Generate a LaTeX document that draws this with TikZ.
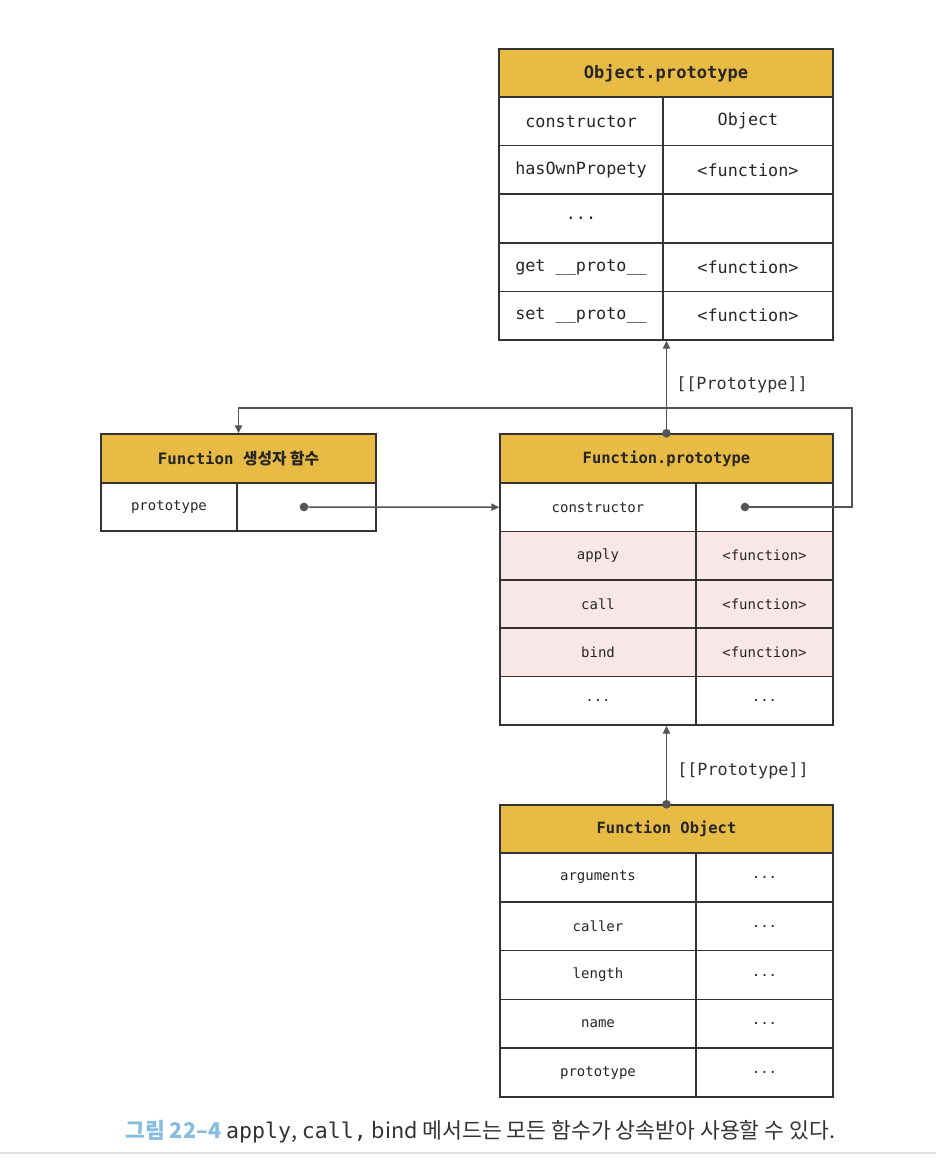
\documentclass[tikz,border=0pt]{standalone}
\usepackage{fontspec}
\setmonofont{DejaVu Sans Mono}
\newfontfamily\kr{Noto Sans CJK KR}
\usetikzlibrary{arrows.meta}
\definecolor{hdr}{HTML}{E8BB45}
\definecolor{pinkrow}{HTML}{F9E6E6}
\definecolor{linec}{HTML}{333333}
\definecolor{connc}{HTML}{555555}
\definecolor{capblue}{HTML}{86BCE0}
\definecolor{captext}{HTML}{333333}
\newcommand{\cellbox}[7]{%
  \pgfmathsetmacro{\cellW}{(#4-#2)*0.75}%
  \pgfmathsetmacro{\cellH}{(#5-#3)*0.75}%
  \node[cellst,#6,minimum width=\cellW pt,minimum height=\cellH pt] (#1) at ({(#2+#4)/2},{(#3+#5)/2}) {#7};}
\begin{document}
\begin{tikzpicture}[x=0.75pt,y=-0.75pt,
  cellst/.style={draw=linec,line width=1.1pt,inner sep=0pt,text=black!85},
  hd/.style={fill=hdr,font=\ttfamily\bfseries},
  big/.style={font=\ttfamily\fontsize{12.6}{14}\selectfont},
  sm/.style={font=\ttfamily\fontsize{10.5}{12}\selectfont},
  pk/.style={fill=pinkrow},
  conn/.style={draw=connc,line width=1.1pt},
  tip/.style={-{Triangle[length=6pt,width=5.5pt]}},
  dotst/.style={circle,fill=connc,inner sep=0pt,minimum size=6.5pt},
  lbl/.style={font=\ttfamily\fontsize{12.6}{14}\selectfont,text=black!80,anchor=west,inner sep=0pt}]
\useasboundingbox (0,0) rectangle (936,1158);
\fill[white] (0,0) rectangle (936,1158);

% Object.prototype
\cellbox{oph}{499}{49}{833}{97}{hd,font=\ttfamily\bfseries\fontsize{12.8}{14}\selectfont}{Object.prototype}
\cellbox{opk1}{499}{97}{663}{145.6}{big}{constructor}
\cellbox{opv1}{663}{97}{833}{145.6}{big}{Object}
\cellbox{opk2}{499}{145.6}{663}{194.2}{big}{hasOwnPropety}
\cellbox{opv2}{663}{145.6}{833}{194.2}{big}{<function>}
\cellbox{opk3}{499}{194.2}{663}{242.8}{big}{...}
\cellbox{opv3}{663}{194.2}{833}{242.8}{big}{}
\cellbox{opk4}{499}{242.8}{663}{291.4}{big}{get \_\_proto\_\_}
\cellbox{opv4}{663}{242.8}{833}{291.4}{big}{<function>}
\cellbox{opk5}{499}{291.4}{663}{340}{big}{set \_\_proto\_\_}
\cellbox{opv5}{663}{291.4}{833}{340}{big}{<function>}

% Function constructor
\cellbox{fch}{101}{434}{376}{483}{hd,font=\ttfamily\bfseries\fontsize{11.8}{13}\selectfont}{Function {\kr\bfseries 생성자 함수}}
\cellbox{fck1}{101}{483}{237}{531}{sm}{prototype}
\cellbox{fcv1}{237}{483}{376}{531}{sm}{}

% Function.prototype
\cellbox{fph}{500}{434}{833}{483}{hd,font=\ttfamily\bfseries\fontsize{11.6}{13}\selectfont}{Function.prototype}
\cellbox{fpk1}{500}{483}{696}{531.4}{sm}{constructor}
\cellbox{fpv1}{696}{483}{833}{531.4}{sm}{}
\cellbox{fpk2}{500}{531.4}{696}{579.8}{sm,pk}{apply}
\cellbox{fpv2}{696}{531.4}{833}{579.8}{sm,pk}{<function>}
\cellbox{fpk3}{500}{579.8}{696}{628.2}{sm,pk}{call}
\cellbox{fpv3}{696}{579.8}{833}{628.2}{sm,pk}{<function>}
\cellbox{fpk4}{500}{628.2}{696}{676.6}{sm,pk}{bind}
\cellbox{fpv4}{696}{628.2}{833}{676.6}{sm,pk}{<function>}
\cellbox{fpk5}{500}{676.6}{696}{725}{sm}{...}
\cellbox{fpv5}{696}{676.6}{833}{725}{sm}{...}

% Function Object
\cellbox{foh}{500}{805}{833}{853}{hd,font=\ttfamily\bfseries\fontsize{11.6}{13}\selectfont}{Function Object}
\cellbox{fok1}{500}{853}{696}{901.8}{sm}{arguments}
\cellbox{fov1}{696}{853}{833}{901.8}{sm}{...}
\cellbox{fok2}{500}{901.8}{696}{950.6}{sm}{caller}
\cellbox{fov2}{696}{901.8}{833}{950.6}{sm}{...}
\cellbox{fok3}{500}{950.6}{696}{999.4}{sm}{length}
\cellbox{fov3}{696}{950.6}{833}{999.4}{sm}{...}
\cellbox{fok4}{500}{999.4}{696}{1048.2}{sm}{name}
\cellbox{fov4}{696}{999.4}{833}{1048.2}{sm}{...}
\cellbox{fok5}{500}{1048.2}{696}{1097}{sm}{prototype}
\cellbox{fov5}{696}{1048.2}{833}{1097}{sm}{...}

% connectors
\coordinate (pdot) at (304,507);
\coordinate (cdot) at (745,507);
\coordinate (loopR) at (852,408);
\draw[conn,tip] (pdot) -- (fpk1.west);
\draw[conn,tip] (cdot) -- (cdot -| loopR) -- (loopR) -- (loopR -| fch.north) -- (fch.north);
\draw[conn,tip] (fph.north) -- (fph.north |- opk5.south);
\draw[conn,tip] (foh.north) -- (foh.north |- fpk5.south);
\node[dotst] at (pdot) {};
\node[dotst] at (cdot) {};
\node[dotst] at (fph.north) {};
\node[dotst] at (foh.north) {};

\node[lbl] (lab1) at (676,385) {[[Prototype]]};
\node[lbl] (lab2) at (677,771) {[[Prototype]]};

% caption
\node[anchor=west,inner sep=0pt,text=captext,font=\kr\fontsize{16.2}{19}\selectfont] (cap) at (125,1132)
  {{\color{capblue}\bfseries 그림 22–4} {\ttfamily apply}, {\ttfamily call,} bind 메서드는 모든 함수가 상속받아 사용할 수 있다.};
\draw[black!12,line width=1.5pt] (0,1153) -- (936,1153);
\end{tikzpicture}
\end{document}
